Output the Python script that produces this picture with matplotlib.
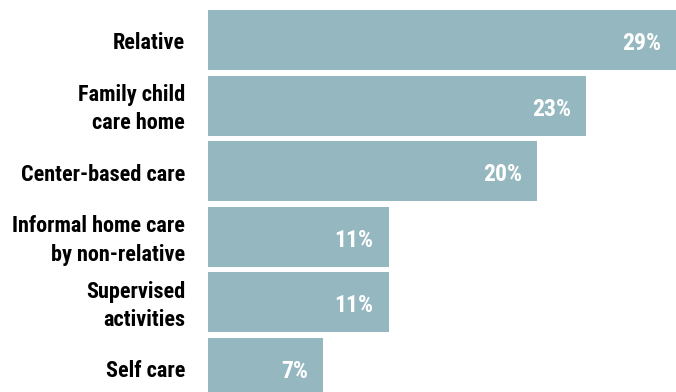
import matplotlib
matplotlib.use("Agg")
import matplotlib.pyplot as plt
import matplotlib.transforms as mtransforms
from matplotlib import font_manager as fm

# ---- data ------------------------------------------------------------
categories = [
    "Relative",
    "Family child\ncare home",
    "Center-based care",
    "Informal home care\nby non-relative",
    "Supervised\nactivities",
    "Self care",
]
shares = [29, 23, 20, 11, 11, 7]
value_labels = ["29%", "23%", "20%", "11%", "11%", "7%"]

BAR_COLOR = "#95b8c0"
DPI = 100

# condensed bold face, whichever is installed
_have = {f.name for f in fm.fontManager.ttflist}
_pick = next((n for n in ("Roboto Condensed", "Archivo Narrow", "Liberation Sans Narrow")
              if n in _have), "DejaVu Sans")
FONT = [_pick, "DejaVu Sans"]
STRETCH = "condensed"
WEIGHT = 800

fig = plt.figure(figsize=(6.76, 3.92), dpi=DPI)
# bars start at x=208 px; image edge clips the longest bar
ax = fig.add_axes([208 / 676, 0, 1 - 208 / 676, 1])

px_per_unit = 16.45
xmax = (676 - 208) / px_per_unit
pitch = 65.6
ax.set_xlim(0, xmax)
ax.set_ylim(5 + 24 / pitch, -40 / pitch)

ypos = list(range(len(categories)))
ax.barh(ypos, shares, height=60 / pitch, color=BAR_COLOR, linewidth=0)

for y, v, lab in zip(ypos, shares, value_labels):
    ax.annotate(lab, xy=(min(v, xmax), y), xytext=(-11, -2.5),
                textcoords="offset points", ha="right", va="center",
                color="white", fontsize=17, fontweight=WEIGHT,
                family=FONT, fontstretch=STRETCH)

ax.set_yticks(ypos)
ax.set_yticklabels(categories, family=FONT, fontstretch=STRETCH, fontsize=16,
                   fontweight=WEIGHT, linespacing=1.38, va="center")
ax.tick_params(axis="y", length=0, pad=16.5)
# nudge category labels down a touch
shift = mtransforms.ScaledTranslation(0, -2.5 / 72, fig.dpi_scale_trans)
for t in ax.get_yticklabels():
    t.set_transform(t.get_transform() + shift)
ax.set_xticks([])
for s in ax.spines.values():
    s.set_visible(False)

fig.savefig("out.png", dpi=DPI)
